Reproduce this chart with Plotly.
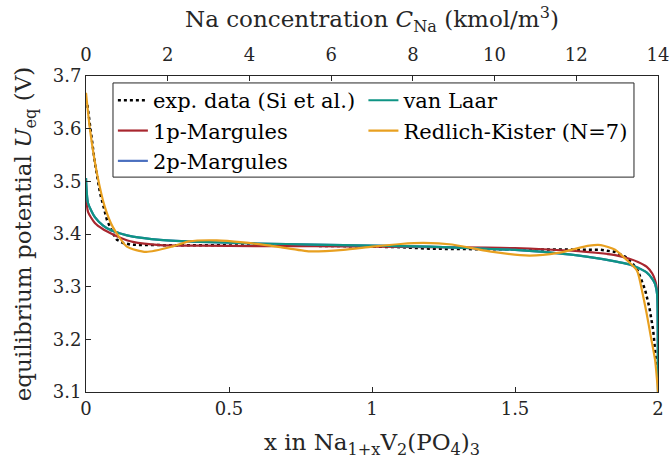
import plotly.graph_objects as go

# ---------------- data ----------------
exp_x = [0.005, 0.014, 0.031, 0.049, 0.073, 0.095, 0.108, 0.13, 0.154, 0.2, 0.3, 0.5, 0.7, 0.9,
         1.0, 1.1, 1.2, 1.3, 1.4, 1.5, 1.6, 1.7, 1.8, 1.85, 1.885, 1.91, 1.93, 1.955, 1.97, 1.983, 1.995]
exp_u = [3.645, 3.603, 3.535, 3.478, 3.427, 3.400, 3.389, 3.383, 3.380, 3.379, 3.379, 3.379, 3.378, 3.377,
         3.376, 3.375, 3.372, 3.371, 3.371, 3.371, 3.371, 3.371, 3.370, 3.366, 3.357, 3.345, 3.330, 3.294, 3.26, 3.218, 3.15]

m1_x = [0, 0.007, 0.031, 0.06, 0.084, 0.12, 0.164, 0.259, 0.4, 0.6, 0.8, 1.0, 1.2, 1.4, 1.5, 1.6,
        1.75, 1.85, 1.9, 1.93, 1.96, 1.98, 1.99, 1.995, 1.999, 2.0]
m1_u = [3.478, 3.442, 3.421, 3.409, 3.402, 3.393, 3.385, 3.379, 3.378, 3.377, 3.377, 3.376, 3.375, 3.374, 3.373, 3.371,
        3.366, 3.360, 3.353, 3.347, 3.338, 3.325, 3.312, 3.300, 3.275, 3.260]

m2_x = [0, 0.007, 0.031, 0.06, 0.084, 0.12, 0.164, 0.259, 0.4, 0.6, 0.8, 1.0, 1.2, 1.4, 1.5, 1.6,
        1.75, 1.85, 1.9, 1.93, 1.96, 1.98, 1.99, 1.997, 1.999, 2.0]
m2_u = [3.506, 3.459, 3.432, 3.416, 3.408, 3.401, 3.395, 3.389, 3.385, 3.382, 3.380, 3.378, 3.376, 3.372, 3.370, 3.366,
        3.357, 3.348, 3.342, 3.336, 3.327, 3.315, 3.305, 3.285, 3.22, 3.10]

vl_x = [0, 0.007, 0.031, 0.06, 0.084, 0.12, 0.164, 0.259, 0.4, 0.6, 0.8, 1.0, 1.2, 1.4, 1.5, 1.6,
        1.75, 1.85, 1.9, 1.93, 1.96, 1.98, 1.99, 1.997, 1.999, 2.0]
vl_u = [3.506, 3.459, 3.432, 3.416, 3.408, 3.401, 3.395, 3.389, 3.385, 3.382, 3.380, 3.378, 3.376, 3.372, 3.370, 3.366,
        3.357, 3.348, 3.342, 3.336, 3.327, 3.315, 3.305, 3.285, 3.22, 3.10]

rk_x = [0, 0.014, 0.038, 0.066, 0.094, 0.143, 0.21, 0.3, 0.36, 0.457, 0.55, 0.667, 0.783, 0.9, 1.0, 1.1,
        1.18, 1.28, 1.41, 1.55, 1.65, 1.76, 1.8, 1.85, 1.89, 1.927, 1.945, 1.96, 1.975, 1.99, 2.0]
rk_u = [3.668, 3.598, 3.516, 3.451, 3.413, 3.376, 3.366, 3.376, 3.386, 3.388, 3.384, 3.376, 3.367, 3.370, 3.376, 3.381,
        3.383, 3.380, 3.367, 3.359, 3.364, 3.378, 3.379, 3.370, 3.351, 3.330, 3.290, 3.250, 3.205, 3.160, 3.100]

conc_ticks = [0, 2, 4, 6, 8, 10, 12, 14]
x_ticks = [0, 0.5, 1, 1.5, 2]
x_ticktext = ["0", "0.5", "1", "1.5", "2"]
u_ticks = [3.1, 3.2, 3.3, 3.4, 3.5, 3.6, 3.7]

FONT = "DejaVu Serif"
INK = "#262626"
RED = "#A8262E"
BLUE = "#4A6FBF"
TEAL = "#0E9484"
ORANGE = "#E8A020"

fig = go.Figure()

fig.add_trace(go.Scatter(x=exp_x, y=exp_u, mode="lines", name="exp. data (Si et al.)",
                         line=dict(color="black", width=2.5, dash="dot"), legend="legend"))
fig.add_trace(go.Scatter(x=m1_x, y=m1_u, mode="lines", name="1p-Margules",
                         line=dict(color=RED, width=2.2, shape="spline", smoothing=0.6), legend="legend"))
fig.add_trace(go.Scatter(x=m2_x, y=m2_u, mode="lines", name="2p-Margules",
                         line=dict(color=BLUE, width=2.2, shape="spline", smoothing=0.6), legend="legend"))
fig.add_trace(go.Scatter(x=vl_x, y=vl_u, mode="lines", name="van Laar",
                         line=dict(color=TEAL, width=2.2, shape="spline", smoothing=0.6), legend="legend2"))
fig.add_trace(go.Scatter(x=rk_x, y=rk_u, mode="lines", name="Redlich-Kister (N=7)",
                         line=dict(color=ORANGE, width=2.2, shape="spline", smoothing=0.6), legend="legend2"))
# carrier for the top concentration axis
fig.add_trace(go.Scatter(x=conc_ticks, y=[None] * len(conc_ticks), xaxis="x2", mode="lines",
                         showlegend=False, hoverinfo="skip"))

axis_common = dict(showline=True, linecolor=INK, linewidth=1, ticks="inside", ticklen=5,
                   tickcolor=INK, showgrid=False, zeroline=False, automargin=False,
                   tickfont=dict(family=FONT, size=18, color=INK))
title_font = dict(family=FONT, size=23, color=INK)
legend_common = dict(xanchor="left", yanchor="top", orientation="v",
                     bgcolor="rgba(0,0,0,0)", borderwidth=0,
                     font=dict(family=FONT, size=21, color="black"), itemwidth=30,
                     tracegroupgap=0)

fig.update_layout(
    width=671, height=461, autosize=False,
    margin=dict(l=86, r=13, t=76, b=69, autoexpand=False),
    paper_bgcolor="white", plot_bgcolor="white",
    font=dict(family=FONT, color=INK),
    xaxis=dict(range=[0, 2], tickvals=x_ticks, ticktext=x_ticktext, mirror=True,
               title=dict(text="x in Na<sub>1+x</sub>V<sub>2</sub>(PO<sub>4</sub>)<sub>3</sub>",
                          font=title_font, standoff=16),
               **axis_common),
    xaxis2=dict(range=[0, 14], tickvals=conc_ticks, overlaying="x", side="top", anchor="y",
                ticklabelstandoff=7,
                title=dict(text="Na concentration <i>C</i><sub>Na</sub> (kmol/m<sup>3</sup>)",
                           font=title_font, standoff=9),
                **axis_common),
    yaxis=dict(range=[3.1, 3.7], tickvals=u_ticks, ticktext=[f"{v:.1f}" for v in u_ticks], mirror=True,
               title=dict(text="equilibrium potential <i>U</i><sub>eq</sub> (V)",
                          font=title_font, standoff=14),
               **axis_common),
    legend=dict(x=0.047, y=0.987, **legend_common),
    legend2=dict(x=0.485, y=0.987, **legend_common),
    shapes=[dict(type="rect", xref="paper", yref="paper", x0=0.0472, x1=0.958, y0=0.680, y1=0.978,
                 line=dict(color=INK, width=1), fillcolor="white", layer="above")],
    showlegend=True,
)

fig.write_html("out.html", config={"displayModeBar": False},
               post_script="document.body.style.margin='0px';")
